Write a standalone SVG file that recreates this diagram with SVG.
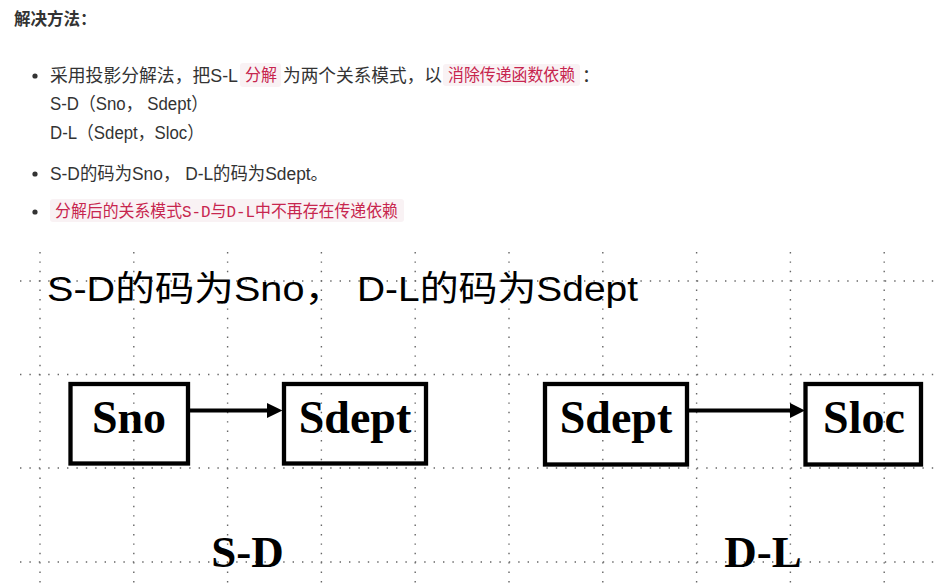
<svg xmlns="http://www.w3.org/2000/svg" width="937" height="587" viewBox="0 0 937 587">
<style>
.body{font-family:"Liberation Sans","Noto Sans CJK SC",sans-serif;font-size:18px;fill:#333}
.code{font-family:"Liberation Mono","Noto Sans CJK SC",monospace;font-size:16.5px;fill:#c7254e}
.codebg{fill:#f9f2f4}
.big{font-family:"Liberation Sans","Noto Sans CJK SC",sans-serif;font-size:35px;fill:#000}
.node rect{fill:none;stroke:#000;stroke-width:4.3}
.node text{font-family:"Liberation Serif","Times New Roman",serif;font-weight:bold;font-size:46px;fill:#000;text-anchor:middle}
.lbl{font-family:"Liberation Serif","Times New Roman",serif;font-weight:bold;font-size:45px;fill:#000;text-anchor:middle}
.grid{stroke:#666;stroke-width:1.4;stroke-dasharray:1.4 8;fill:none}
</style>
<rect width="937" height="587" fill="#fff"/>
<g id="notes">
<text x="14" y="24.5" style="font-family:'Liberation Sans','Noto Sans CJK SC',sans-serif;font-size:16.5px;font-weight:bold;fill:#333">解决方法：</text>
<circle cx="35" cy="76" r="2.6" fill="#333"/>
<text class="body" x="50" y="82" textLength="188" lengthAdjust="spacingAndGlyphs">采用投影分解法，把S-L</text>
<rect class="codebg" x="240" y="63" width="41" height="24" rx="3"/>
<text class="code" x="245" y="81" textLength="32" lengthAdjust="spacingAndGlyphs">分解</text>
<text class="body" x="283" y="82" textLength="159" lengthAdjust="spacingAndGlyphs">为两个关系模式，以</text>
<rect class="codebg" x="443" y="64" width="137" height="22" rx="3"/>
<text class="code" x="448" y="81" textLength="127" lengthAdjust="spacingAndGlyphs">消除传递函数依赖</text>
<text class="body" x="582" y="82">：</text>
<text class="body" x="50" y="110" textLength="158" lengthAdjust="spacingAndGlyphs">S-D（Sno， Sdept）</text>
<text class="body" x="50" y="139" textLength="154" lengthAdjust="spacingAndGlyphs">D-L（Sdept，Sloc）</text>
<circle cx="35" cy="174" r="2.6" fill="#333"/>
<text class="body" x="50" y="180" textLength="278" lengthAdjust="spacingAndGlyphs">S-D的码为Sno， D-L的码为Sdept。</text>
<circle cx="35" cy="212" r="2.6" fill="#333"/>
<rect class="codebg" x="50" y="199" width="354" height="23" rx="3"/>
<text class="code" x="55" y="216.5" textLength="343" lengthAdjust="spacingAndGlyphs">分解后的关系模式S-D与D-L中不再存在传递依赖</text>
</g>
<g id="grid">
<path class="grid" d="M40 252V587M133.8 252V587M227.6 252V587M321.4 252V587M415.2 252V587M509 252V587M602.8 252V587M696.6 252V587M790.4 252V587M884.2 252V587"/>
<path class="grid" d="M20 281H936M20 374.5H936M20 468H936M20 562H936"/>
</g>
<g id="title">
<text class="big" x="47" y="301" textLength="297" lengthAdjust="spacingAndGlyphs">S-D的码为Sno，</text>
<text class="big" x="357" y="301" textLength="281" lengthAdjust="spacingAndGlyphs">D-L的码为Sdept</text>
</g>
<g id="connectors">
<path d="M190 410.5H268" stroke="#000" stroke-width="4" fill="none"/>
<polygon points="267,403 282.5,410.5 267,418" fill="#000"/>
<path d="M689 410.5H791" stroke="#000" stroke-width="4" fill="none"/>
<polygon points="790,403 805,410.5 790,418" fill="#000"/>
</g>
<g id="node-sno" class="node">
<rect x="70.5" y="384" width="117.5" height="79.5"/>
<text x="129" y="433">Sno</text>
</g>
<g id="node-sdept-sd" class="node">
<rect x="284" y="384" width="142" height="79.5"/>
<text x="355" y="433">Sdept</text>
</g>
<g id="node-sdept-dl" class="node">
<rect x="545" y="384" width="142" height="80.5"/>
<text x="616" y="433">Sdept</text>
</g>
<g id="node-sloc" class="node">
<rect x="805.5" y="384" width="115.5" height="80.5"/>
<text x="864" y="433">Sloc</text>
</g>
<g id="labels">
<text class="lbl" x="247.5" y="567">S-D</text>
<text class="lbl" x="763" y="567">D-L</text>
</g>
</svg>
